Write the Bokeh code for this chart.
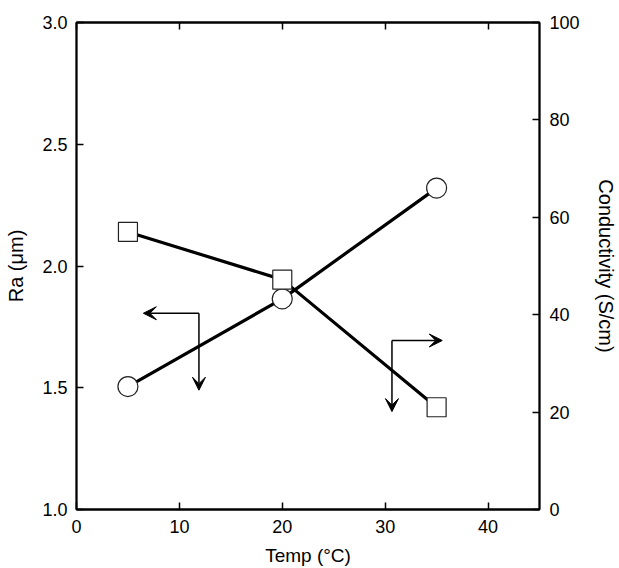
from bokeh.plotting import figure
from bokeh.models import Range1d, LinearAxis, FixedTicker, Arrow, VeeHead, PrintfTickFormatter
from bokeh.embed import file_html
from bokeh.resources import INLINE

# Measurements at three bath temperatures
temp = [5, 20, 35]
ra = [1.505, 1.865, 2.32]          # surface roughness Ra (um), left axis
conductivity = [57.0, 47.2, 21.0]  # S/cm, right axis

x_ticks = [0, 10, 20, 30, 40]
ra_ticks = [1.0, 1.5, 2.0, 2.5, 3.0]
cond_ticks = [0, 20, 40, 60, 80, 100]

# Indicator arrows: corner point, horizontal tip and vertical tip
ra_arrow = {"x": 11.9, "y": 1.806, "x_tip": 6.5, "y_tip": 1.49}
cond_arrow = {"x": 30.66, "y": 34.7, "x_tip": 35.55, "y_tip": 20.1}

FONT = "Liberation Sans"
TICK_SIZE = "18px"
LABEL_SIZE = "20px"

p = figure(width=619, height=568, output_backend="svg", toolbar_location=None,
           x_range=Range1d(0, 45), y_range=Range1d(1.0, 3.0),
           min_border_left=76, min_border_right=78,
           min_border_top=22, min_border_bottom=58)
p.extra_y_ranges = {"cond": Range1d(0, 100)}
p.xgrid.visible = False
p.ygrid.visible = False
p.outline_line_color = "black"
p.outline_line_width = 1.8
p.background_fill_color = "white"
p.border_fill_color = "white"


def style(axis, ticks):
    axis.ticker = FixedTicker(ticks=ticks)
    axis.major_tick_in = 7
    axis.major_tick_out = 0
    axis.minor_tick_line_color = None
    axis.major_tick_line_width = 1.5
    axis.axis_line_width = 1.8
    axis.axis_line_color = "black"
    axis.major_tick_line_color = "black"
    axis.major_label_text_font = FONT
    axis.major_label_text_font_size = TICK_SIZE
    axis.major_label_text_color = "black"
    axis.axis_label_text_font = FONT
    axis.axis_label_text_font_size = LABEL_SIZE
    axis.axis_label_text_font_style = "normal"
    axis.axis_label_text_color = "black"


xa = p.xaxis[0]
style(xa, x_ticks)
xa.axis_label = "Temp (°C)"
xa.axis_label_text_font_size = "19px"
xa.major_label_standoff = 10
xa.axis_label_standoff = 9

ya = p.yaxis[0]
style(ya, ra_ticks)
ya.formatter = PrintfTickFormatter(format="%.1f")
ya.axis_label = "Ra (μm)"
ya.major_label_standoff = 9
ya.axis_label_standoff = 12

right = LinearAxis(y_range_name="cond", axis_label="Conductivity (S/cm)")
style(right, cond_ticks)
right.major_label_standoff = 10
right.axis_label_standoff = 12
p.add_layout(right, "right")

top = LinearAxis()
style(top, x_ticks)
top.major_label_text_color = None
top.major_label_text_font_size = "0px"
p.add_layout(top, "above")

# Connecting lines
p.line(temp, ra, line_color="black", line_width=3.2)
p.line(temp, conductivity, line_color="black", line_width=3.2, y_range_name="cond")

# Markers
p.scatter(temp, ra, marker="circle", size=20, fill_color="white",
          line_color="#222222", line_width=1.2)
p.scatter(temp, conductivity, marker="square", size=19, fill_color="white",
          line_color="#222222", line_width=1.2, y_range_name="cond")


def add_arrow(x0, y0, x1, y1, range_name="default"):
    p.add_layout(Arrow(end=VeeHead(size=13, fill_color="black", line_color="black", line_width=1),
                       x_start=x0, y_start=y0, x_end=x1, y_end=y1,
                       line_color="black", line_width=1.5, y_range_name=range_name))


add_arrow(ra_arrow["x"], ra_arrow["y"], ra_arrow["x_tip"], ra_arrow["y"])
add_arrow(ra_arrow["x"], ra_arrow["y"], ra_arrow["x"], ra_arrow["y_tip"])
add_arrow(cond_arrow["x"], cond_arrow["y"], cond_arrow["x_tip"], cond_arrow["y"], "cond")
add_arrow(cond_arrow["x"], cond_arrow["y"], cond_arrow["x"], cond_arrow["y_tip"], "cond")

open("out.html", "w").write(file_html(p, INLINE))
